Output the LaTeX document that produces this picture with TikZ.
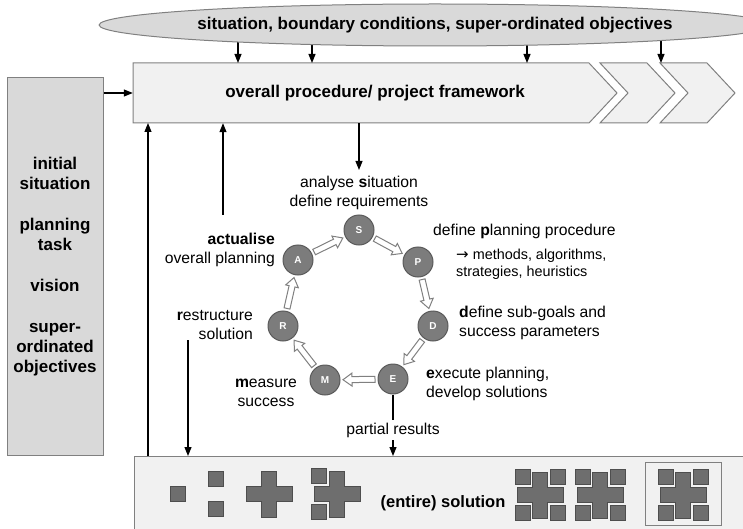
\documentclass[tikz,border=0pt]{standalone}
\usepackage{fontspec}
\setmainfont{Liberation Sans}
\newfontfamily\symfont{DejaVu Sans}
\usepackage{tikz}
\usetikzlibrary{arrows.meta,calc,positioning}
\usetikzlibrary{shapes.geometric}
\definecolor{boxgray}{HTML}{D9D9D9}
\definecolor{panel}{HTML}{F1F1F1}
\definecolor{rim}{HTML}{808080}
\definecolor{stepfill}{HTML}{7C7C7C}
\definecolor{steprim}{HTML}{5A5A5A}
\definecolor{blockfill}{HTML}{6E6E6E}
\definecolor{blockrim}{HTML}{4E4E4E}
\newcommand{\bigbold}{\fontsize{17}{20}\selectfont\bfseries}
\tikzstyle{arrow} = [line width=1.1pt,->,>={Triangle[length=9pt,width=7pt]}]
\tikzstyle{chevron} = [draw=rim, fill=panel, line width=1pt, line join=miter]
\tikzstyle{phase} = [circle, draw=steprim, fill=stepfill, line width=1pt, minimum size=30pt, inner sep=0, text=white, font=\fontsize{10}{12}\selectfont\bfseries]
\tikzstyle{hollowarrow} = [draw=rim, fill=white, line width=1pt, line join=miter]
\tikzstyle{block} = [fill=blockfill, draw=blockrim, line width=0.8pt]
\tikzstyle{note} = [inner sep=0, align=left]
\newcommand{\hollow}[2]{
  \coordinate (hs) at ($(#1)!18pt!(#2)$);
  \coordinate (he) at ($(#2)!18pt!(#1)$);
  \coordinate (hb) at ($(he)!9pt!(hs)$);
  \draw[hollowarrow] ($(hs)!3pt!90:(he)$) -- ($(hb)!3pt!90:(he)$) -- ($(hb)!6.5pt!90:(he)$)
    -- (he) -- ($(hb)!6.5pt!-90:(he)$) -- ($(hb)!3pt!-90:(he)$) -- ($(hs)!3pt!-90:(he)$) -- cycle;
}
\newcommand{\blk}[2]{\filldraw[block] (#1,#2) rectangle ++(15,15);}
\newcommand{\plus}[2]{\filldraw[block] (#1+15.3,#2) -- ++(15.3,0) -- ++(0,15.3) -- ++(15.3,0) -- ++(0,15.3)
  -- ++(-15.3,0) -- ++(0,15.3) -- ++(-15.3,0) -- ++(0,-15.3) -- ++(-15.3,0) -- ++(0,-15.3) -- ++(15.3,0) -- cycle;}
\newcommand{\fullpiece}[2]{\plus{#1}{#2}\blk{#1-2}{#2-3}\blk{#1+33}{#2-3}\blk{#1-2}{#2+33}\blk{#1+33}{#2+33}}

\begin{document}
\begin{tikzpicture}[x=1pt,y=-1pt,font=\fontsize{15.7}{19}\selectfont]
\useasboundingbox (0,0) rectangle (743,529);

% solution strip
\node[fill=panel, minimum width=609pt, minimum height=73pt, inner sep=0, anchor=north west] (sol) at (134,456) {};
\draw[rim, line width=1pt] (sol.north east) -- (sol.north west) -- (sol.south west);
\node[font=\fontsize{16.5}{19}\selectfont\bfseries] (whole) at (443,503) {(entire) solution};
\blk{170}{486}
\blk{208}{471} \blk{208}{501}
\plus{246}{471}
\plus{314}{471} \blk{311}{468} \blk{311}{504}
\fullpiece{517}{472}
\fullpiece{577}{472}
\draw[rim, fill=panel, line width=1pt] (645,462) rectangle (721,525);
\fullpiece{660}{472}

% framework chevrons
\draw[chevron] (133,63) -- (589,63) -- (617,93) -- (589,123) -- (133,123) -- cycle;
\foreach \x in {600,660}{
    \draw[chevron] (\x,63) -- ++(47,0) -- ++(28,30) -- ++(-28,30) -- ++(-47,0) -- ++(28,-30) -- cycle;
}
\node[minimum width=484pt, minimum height=60pt, inner sep=0, font=\bigbold] (frame) at (375,93) {overall procedure/ project framework};

% conditions on top
\coordinate (mid) at (435,25);
\coordinate (in1) at (238,63);
\coordinate (in2) at (312,63);
\coordinate (in3) at (527,63);
\coordinate (in4) at (661,63);
\foreach \c in {in1,in2,in3,in4}{
    \draw[arrow] (\c |- mid) -- (\c);
}
\node[ellipse, draw=rim, fill=boxgray, line width=1pt, minimum width=604pt, minimum height=42pt, inner sep=0, font=\bigbold] (cond) at (mid) {situation, boundary conditions, super-ordinated objectives};

% initial situation
\node[draw=rim, fill=boxgray, line width=1pt, minimum width=96pt, minimum height=377pt, inner sep=0, align=center, font=\bigbold] (start) at (55,266.5)
    {initial\\situation\\[21pt]planning\\task\\[21pt]vision\\[21pt]super-\\ordinated\\objectives};
\draw[arrow] (start.east |- frame) -- (frame.west);

% planning cycle
\node[phase] (S) at (359,230) {S};
\node[phase] (P) at (418,262) {P};
\node[phase] (D) at (433,326) {D};
\node[phase] (E) at (393,379) {E};
\node[phase] (M) at (325,380) {M};
\node[phase] (R) at (283,326) {R};
\node[phase] (A) at (298,260) {A};
\hollow{S}{P}
\hollow{P}{D}
\hollow{D}{E}
\hollow{E}{M}
\hollow{M}{R}
\hollow{R}{A}
\hollow{A}{S}

\node[note, align=center] (ana) at (359,193) {analyse \textbf{s}ituation\\define requirements};
\node[note, anchor=west] (plan) at (433,231) {define \textbf{p}lanning procedure};
\node[note, anchor=west, font=\fontsize{14.4}{17}\selectfont] (tools) at (456,264) {{\symfont\fontsize{15}{17}\selectfont →} methods, algorithms,\\strategies, heuristics};
\node[note, anchor=west] (dsub) at (459,323) {\textbf{d}efine sub-goals and\\success parameters};
\node[note, anchor=west] (exe) at (426,384) {\textbf{e}xecute planning,\\develop solutions};
\node[note, align=center] (meas) at (266,393) {\textbf{m}easure\\success};
\node[note, anchor=east, align=right] (rest) at (253,325) {\textbf{r}estructure\\solution};
\node[note, anchor=east, align=right] (act) at (275,250) {\textbf{actualise}\\overall planning};

% feedback lines
\coordinate (up1) at (148,123);
\coordinate (upfoot) at (223,215);
\coordinate (rfoot) at (188,340);
\draw[arrow] (up1 |- sol.north) -- (up1);
\draw[arrow] (upfoot) -- (upfoot |- frame.south);
\draw[arrow] (rfoot) -- (rfoot |- sol.north);
\draw[arrow] (ana.north |- frame.south) -- ([yshift=6pt]ana.north);
\draw[arrow] (E.south) -- (E.south |- sol.north) node[pos=0.58, fill=white, inner sep=3pt] (part) {partial results};
\end{tikzpicture}
\end{document}
